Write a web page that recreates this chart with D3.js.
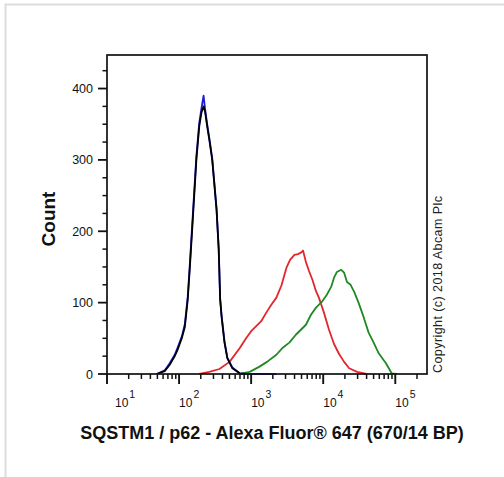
<!DOCTYPE html>
<html>
<head>
<meta charset="utf-8">
<script src="https://cdn.jsdelivr.net/npm/d3@7"></script>
<style>
  body { margin: 0; background: #fff; }
  svg { display: block; font-family: "Liberation Sans", Arial, sans-serif; }
</style>
</head>
<body>
<svg id="chart" width="504" height="477"></svg>
<script>
// histogram data: x = log10 of fluorescence, y = count
const blackLog   = [1.69, 1.80, 1.87, 1.94, 1.98, 2.04, 2.08, 2.12, 2.15, 2.19, 2.24, 2.28, 2.31, 2.34, 2.36, 2.39, 2.42, 2.46, 2.52, 2.55, 2.56, 2.57, 2.59, 2.63, 2.67, 2.74, 2.84, 2.93];
const blackCount = [0, 4, 13, 25, 34, 51, 66, 104, 150, 216, 300, 347, 366, 375, 368, 347, 328, 300, 230, 174, 139, 104, 80, 44, 22, 8, 1, 0];

const blueLog   = [1.69, 1.80, 1.87, 1.94, 1.98, 2.04, 2.08, 2.12, 2.15, 2.19, 2.24, 2.28, 2.31, 2.34, 2.36, 2.39, 2.42, 2.46, 2.52, 2.55, 2.56, 2.57, 2.59, 2.63, 2.67, 2.74, 2.84, 2.93, 3.10, 3.35];
const blueCount = [0, 5, 15, 27, 37, 53, 70, 108, 155, 222, 305, 352, 372, 390, 372, 350, 330, 302, 232, 176, 141, 106, 82, 46, 23, 9, 1, 0, 0, 0];

const redLog   = [2.28, 2.42, 2.56, 2.70, 2.84, 2.93, 3.00, 3.07, 3.14, 3.21, 3.28, 3.35, 3.42, 3.49, 3.54, 3.60, 3.65, 3.69, 3.72, 3.76, 3.80, 3.85, 3.90, 3.94, 4.01, 4.08, 4.15, 4.22, 4.29, 4.36, 4.47, 4.60];
const redCount = [0, 3, 7, 17, 36, 50, 60, 67, 74, 86, 97, 107, 124, 149, 160, 167, 168, 170, 173, 157, 145, 132, 116, 107, 86, 62, 42, 28, 17, 8, 3, 0];

const greenLog   = [2.84, 2.98, 3.11, 3.22, 3.35, 3.43, 3.53, 3.62, 3.69, 3.76, 3.83, 3.90, 3.98, 4.05, 4.11, 4.15, 4.19, 4.25, 4.29, 4.33, 4.38, 4.43, 4.49, 4.56, 4.63, 4.70, 4.77, 4.87, 4.95, 5.02];
const greenCount = [0, 3, 10, 17, 27, 36, 44, 55, 62, 69, 83, 93, 101, 111, 122, 135, 143, 146, 142, 129, 125, 115, 100, 80, 58, 44, 29, 15, 1, 0];

const yTickValues = [0, 100, 200, 300, 400];
const xDecades = [1, 2, 3, 4, 5];

const X_LEFT = 107;
const X_RIGHT = 427;
const Y_TOP = 55;
const Y_BOTTOM = 374;
const AXIS_COLOR = "#111";

const svg = d3.select("#chart");

// light frame round the picture
svg.append("path")
  .attr("d", "M5.5,477 V4.5 H504")
  .style("fill", "none")
  .style("stroke", "#dcdcdc")
  .style("stroke-width", 2);

const x = d3.scaleLog().domain([10, Math.pow(10, 5.44)]).range([X_LEFT, X_RIGHT]);
const y = d3.scaleLinear().domain([0, 447]).range([Y_BOTTOM, Y_TOP]);

// y axis: majors every 100, minors every 25
const yMinor = d3.range(0, 447, 25).filter(v => v % 100 !== 0);
svg.append("g").selectAll("line").data(yMinor).join("line")
  .attr("x1", X_LEFT - 4.5).attr("x2", X_LEFT)
  .attr("y1", d => y(d)).attr("y2", d => y(d))
  .style("stroke", AXIS_COLOR).style("stroke-width", 1.5);

svg.append("g").selectAll("line").data(yTickValues).join("line")
  .attr("x1", X_LEFT - 9).attr("x2", X_LEFT)
  .attr("y1", d => y(d)).attr("y2", d => y(d))
  .style("stroke", AXIS_COLOR).style("stroke-width", 1.8);

svg.append("g").selectAll("text").data(yTickValues).join("text")
  .attr("x", 93)
  .attr("y", d => y(d) + 4.5)
  .attr("text-anchor", "end")
  .style("font-size", "12.5px")
  .style("fill", "#111")
  .text(d => d);

// x axis: log decades with 2..9 minors
const xMinor = [];
xDecades.forEach(p => {
  for (let m = 2; m <= 9; m++) {
    const v = m * Math.pow(10, p);
    if (v <= x.domain()[1]) xMinor.push(v);
  }
});
svg.append("g").selectAll("line").data(xMinor).join("line")
  .attr("x1", d => x(d)).attr("x2", d => x(d))
  .attr("y1", Y_BOTTOM).attr("y2", Y_BOTTOM + 5)
  .style("stroke", AXIS_COLOR).style("stroke-width", 1.5);

svg.append("g").selectAll("line").data(xDecades).join("line")
  .attr("x1", d => x(Math.pow(10, d))).attr("x2", d => x(Math.pow(10, d)))
  .attr("y1", Y_BOTTOM).attr("y2", Y_BOTTOM + 10)
  .style("stroke", AXIS_COLOR).style("stroke-width", 1.9);

const xLabels = svg.append("g").selectAll("text").data(xDecades).join("text")
  .attr("x", (d, i) => x(Math.pow(10, d)) + (i === 0 ? 8 : 0))
  .attr("y", 407)
  .style("font-size", "12px")
  .style("fill", "#111");
xLabels.append("tspan").text("10");
xLabels.append("tspan")
  .attr("dx", 1)
  .attr("dy", -9.5)
  .style("font-size", "10.5px")
  .text(d => d);

// histogram lines
const line = d3.line()
  .x(d => x(Math.pow(10, d[0])))
  .y(d => y(d[1]));

const series = [
  { log: redLog, count: redCount, color: "#e3262b" },
  { log: greenLog, count: greenCount, color: "#1f8a24" },
  { log: blueLog, count: blueCount, color: "#1d1dd8" },
  { log: blackLog, count: blackCount, color: "#000000" }
];

const plot = svg.append("g");
series.forEach(s => {
  plot.append("path")
    .datum(d3.zip(s.log, s.count))
    .attr("d", line)
    .style("fill", "none")
    .style("stroke", s.color)
    .style("stroke-width", 1.8)
    .style("stroke-linejoin", "round");
});

// plot box
svg.append("rect")
  .attr("x", X_LEFT).attr("y", Y_TOP)
  .attr("width", X_RIGHT - X_LEFT).attr("height", Y_BOTTOM - Y_TOP)
  .style("fill", "none")
  .style("stroke", AXIS_COLOR)
  .style("stroke-width", 1.7);

// titles
svg.append("text")
  .attr("x", 272).attr("y", 439)
  .attr("text-anchor", "middle")
  .style("font-size", "18px")
  .style("font-weight", "bold")
  .style("fill", "#111")
  .text("SQSTM1 / p62 - Alexa Fluor® 647 (670/14 BP)");

svg.append("text")
  .attr("transform", "translate(55,219) rotate(-90)")
  .attr("text-anchor", "middle")
  .style("font-size", "19px")
  .style("font-weight", "bold")
  .style("fill", "#111")
  .text("Count");

svg.append("text")
  .attr("transform", "translate(442,373) rotate(-90)")
  .attr("text-anchor", "start")
  .attr("textLength", 177)
  .style("font-size", "12.5px")
  .style("fill", "#222")
  .text("Copyright (c) 2018 Abcam Plc");
</script>
</body>
</html>
